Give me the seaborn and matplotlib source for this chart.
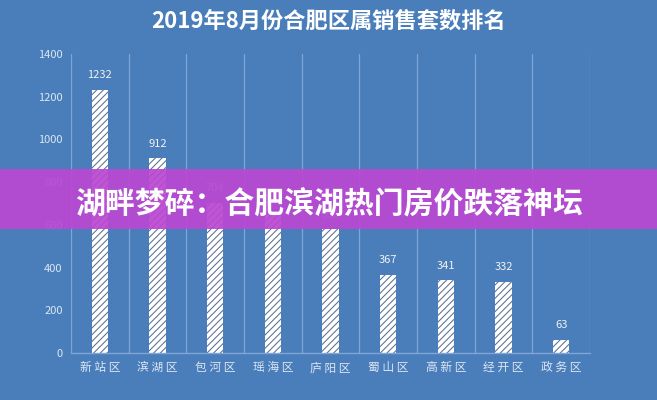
import matplotlib
matplotlib.use("Agg")
import matplotlib.pyplot as plt
import seaborn as sns
import pandas as pd

# Monthly sales (units) per district, August 2019
districts = ["新站区", "滨湖区", "包河区", "瑶海区", "庐阳区", "蜀山区", "高新区", "经开区", "政务区"]
sales = [1232, 912, 704, 650, 579, 367, 341, 332, 63]
y_ticks = [0, 200, 400, 600, 800, 1000, 1200, 1400]

title_text = "2019年8月份合肥区属销售套数排名"
banner_text = "湖畔梦碎：合肥滨湖热门房价跌落神坛"

BG = "#4A7EBB"
GRID = "#7FA6D6"
TICK = "#DCE6F2"
HATCH = "#5A6F90"

sns.set_theme(style="white")
plt.rcParams["font.family"] = ["Noto Sans CJK SC", "DejaVu Sans"]
plt.rcParams["hatch.linewidth"] = 0.75
plt.rcParams["hatch.color"] = HATCH

df = pd.DataFrame({"district": districts, "sales": sales})

fig = plt.figure(figsize=(6.57, 4.0), dpi=100, facecolor=BG)
ax = fig.add_axes([0.108, 0.1175, 0.790, 0.7475])
ax.set_facecolor(BG)

sns.barplot(data=df, x="district", y="sales", color="white", width=0.28,
            ax=ax, saturation=1, edgecolor=HATCH, linewidth=0)
for p in ax.patches:
    p.set_hatch("/////")
    p.set_edgecolor(HATCH)
    p.set_linewidth(0)

# value labels above each bar
for i, v in enumerate(sales):
    ax.text(i, v + 45, str(v), ha="center", va="bottom",
            color="#F2F2F2", fontsize=8)

ax.set_ylim(0, 1400)
ax.set_xlim(-0.5, len(districts) - 0.5)
ax.set_yticks(y_ticks)
ax.set_yticklabels([str(t) for t in y_ticks], color=TICK, fontsize=8)
ax.set_xticks(range(len(districts)))
ax.set_xticklabels([" ".join(d) for d in districts], color=TICK, fontsize=8.5)
ax.tick_params(axis="both", length=0, pad=6)
ax.set_xlabel("")
ax.set_ylabel("")

# category separators
for b in range(len(districts) + 1):
    ax.axvline(b - 0.5, color=GRID, linewidth=0.9, zorder=0)

for side in ["top", "right", "left"]:
    ax.spines[side].set_visible(False)
ax.spines["bottom"].set_color(GRID)
ax.spines["bottom"].set_linewidth(1.0)

fig.text(0.5, 0.948, title_text, ha="center", va="center",
         color="white", fontsize=16, fontweight="bold")

# headline banner across the chart
fig.patches.append(plt.Rectangle((0, 1 - 229 / 400), 1, 60 / 400,
                                 transform=fig.transFigure, facecolor="#BA48D2",
                                 alpha=0.93, zorder=5, edgecolor="none"))
fig.text(0.5, 1 - 205 / 400, banner_text, ha="center", va="center",
         color="white", fontsize=21.5, fontweight="heavy", zorder=6)

fig.savefig("out.png", dpi=100, facecolor=BG)
